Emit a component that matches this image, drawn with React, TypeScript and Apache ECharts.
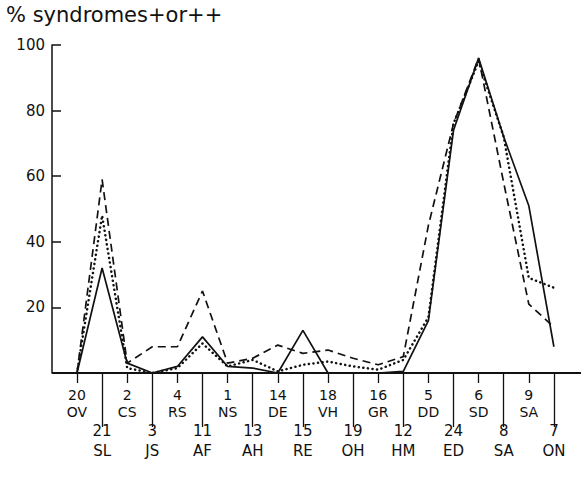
import React, { useEffect, useRef } from "react";
import * as echarts from "echarts";

// Syndrome codes along the x axis (alternating upper / lower label rows)
const codeNumbers = ["20", "21", "2", "3", "4", "11", "1", "13", "14", "15", "18", "19", "16", "12", "5", "24", "6", "8", "9", "7"];
const codeLetters = ["OV", "SL", "CS", "JS", "RS", "AF", "NS", "AH", "DE", "RE", "VH", "OH", "GR", "HM", "DD", "ED", "SD", "SA", "SA", "ON"];
const categories = codeNumbers.map((n, i) => `${n} ${codeLetters[i]}`);

// % syndromes + or ++
const solidValues = [0, 32, 3, 0, 2, 11, 2, 1.5, 0, 13, 0, 0, 0, 0.5, 16, 74, 96, 72, 51, 8];
const dashedValues = [0, 59, 3, 8, 8, 25, 3, 4.5, 8.5, 6, 7, 4.5, 2.5, 5, 45, 76, 96, 58, 21, 14];
const dottedValues = [0, 48, 1.5, 0, 1.5, 9, 2, 4, 0.5, 2.5, 3.5, 2, 1, 4, 17, 76, 95, 72, 29, 26];

const yTicks = [0, 20, 40, 60, 80, 100];

const FONT = "DejaVu Sans";
const INK = "#111";

export default function App() {
  const ref = useRef<HTMLDivElement>(null);
  useEffect(() => {
    if (!ref.current) return;
    const chart = echarts.init(ref.current, null, { renderer: "svg" });
    const gridLeft = 64.45;
    const gridRight = 14.55;
    const rich = (fs: number, lh: number) => ({ fontSize: fs, lineHeight: lh, fontFamily: FONT, color: INK });
    const option: any = {
      animation: false,
      backgroundColor: "#fff",
      title: {
        text: "% syndromes+or++",
        left: 6,
        top: 4,
        padding: 0,
        textStyle: { fontSize: 21, fontWeight: "normal", fontFamily: FONT, color: INK },
      },
      grid: [
        { left: gridLeft, right: gridRight, top: 45, bottom: 107 },
        { left: gridLeft, right: gridRight, top: 300, bottom: 107 },
      ],
      xAxis: [
        {
          type: "category",
          gridIndex: 0,
          data: categories,
          boundaryGap: true,
          axisLine: { show: false },
          axisTick: {
            show: true,
            alignWithLabel: true,
            length: 10,
            interval: (i: number) => i % 2 === 0,
            lineStyle: { color: INK, width: 1.3 },
          },
          axisLabel: {
            interval: (i: number) => i % 2 === 0,
            margin: 13,
            color: INK,
            fontFamily: FONT,
            fontSize: 14,
            formatter: (_v: string, i: number) => `{u|${codeNumbers[i]}}\n{u|${codeLetters[i]}}`,
            rich: { u: rich(14, 17) },
          },
          splitLine: { show: false },
        },
        {
          type: "category",
          gridIndex: 1,
          data: categories,
          boundaryGap: true,
          axisLine: { show: false },
          axisLabel: {
            interval: (i: number) => i % 2 === 1,
            margin: 48,
            color: INK,
            fontFamily: FONT,
            fontSize: 15,
            formatter: (_v: string, i: number) => `{l|${codeNumbers[i]}}\n{l|${codeLetters[i]}}`,
            rich: { l: rich(15, 20) },
          },
          axisTick: {
            show: true,
            alignWithLabel: true,
            length: 54,
            interval: (i: number) => i % 2 === 1,
            lineStyle: { color: INK, width: 1.3 },
          },
          splitLine: { show: false },
        },
      ],
      yAxis: [
        {
          type: "value",
          gridIndex: 0,
          min: yTicks[0],
          max: yTicks[yTicks.length - 1],
          interval: 20,
          offset: gridLeft - 52,
          axisLine: { show: true, lineStyle: { color: INK, width: 1.5 } },
          axisTick: { show: true, inside: true, length: 9, lineStyle: { color: INK, width: 1.5 } },
          axisLabel: {
            margin: 7,
            color: INK,
            fontFamily: FONT,
            fontSize: 15,
            formatter: (v: number) => (v === 0 ? "" : String(v)),
          },
          splitLine: { show: false },
        },
        { type: "value", gridIndex: 1, show: false },
      ],
      graphic: [
        {
          type: "line",
          shape: { x1: 52, y1: 373, x2: 581, y2: 373 },
          style: { stroke: INK, lineWidth: 2 },
          z: 10,
        },
      ],
      series: [
        {
          name: "solid",
          type: "line",
          xAxisIndex: 0,
          yAxisIndex: 0,
          data: solidValues,
          symbol: "none",
          lineStyle: { color: INK, width: 1.7, type: "solid" },
        },
        {
          name: "dashed",
          type: "line",
          xAxisIndex: 0,
          yAxisIndex: 0,
          data: dashedValues,
          symbol: "none",
          lineStyle: { color: INK, width: 1.7, type: [8, 5] },
        },
        {
          name: "dotted",
          type: "line",
          xAxisIndex: 0,
          yAxisIndex: 0,
          data: dottedValues,
          symbol: "none",
          lineStyle: { color: INK, width: 2.5, type: [0.1, 4.5], cap: "round" },
        },
      ],
    };
    chart.setOption(option);
    return () => chart.dispose();
  }, []);
  return (
    <div
      ref={ref}
      style={{ position: "fixed", left: 0, top: 0, width: 581, height: 480, background: "#fff" }}
    />
  );
}
